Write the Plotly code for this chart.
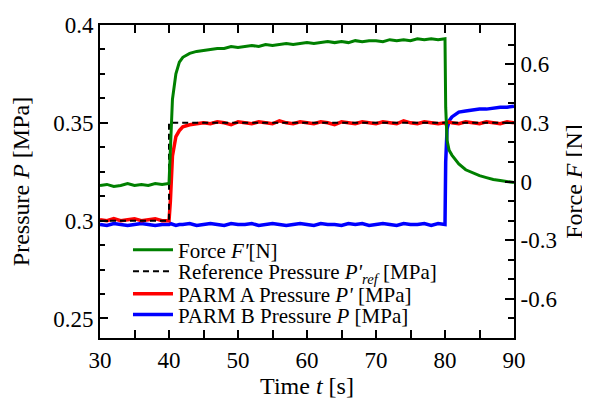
import plotly.graph_objects as go

# ---------------- data ----------------
time_s = [30, 31, 32, 33, 34, 35, 36, 37, 38, 39, 40,
          40.2, 40.5, 41, 41.5,
          42, 43, 44, 45, 46, 47, 48, 49, 50, 51, 52, 53, 54, 55, 56, 57, 58, 59, 60,
          61, 62, 63, 64, 65, 66, 67, 68, 69, 70, 71, 72, 73, 74, 75, 76, 77, 78, 79, 80,
          80.1, 80.3, 80.6,
          81, 82, 83, 84, 85, 86, 87, 88, 89, 90]

force_N = [-0.02, -0.015, -0.025, -0.02, -0.01, -0.02, -0.015, -0.02, -0.01, -0.015, -0.01,
           0.2, 0.42, 0.55, 0.61,
           0.635, 0.655, 0.665, 0.67, 0.675, 0.68, 0.68, 0.69, 0.685, 0.69, 0.695, 0.69, 0.7,
           0.695, 0.7, 0.705, 0.7, 0.705, 0.71, 0.705, 0.71, 0.715, 0.71, 0.715, 0.71, 0.72,
           0.715, 0.72, 0.72, 0.715, 0.725, 0.72, 0.725, 0.72, 0.73, 0.725, 0.73, 0.725, 0.73,
           0.38, 0.21, 0.16,
           0.135, 0.09, 0.06, 0.045, 0.03, 0.02, 0.01, 0.005, 0.0, -0.005]

parm_a_MPa = [0.3005, 0.3, 0.301, 0.3, 0.3005, 0.301, 0.3, 0.3005, 0.301, 0.3, 0.3,
              0.31, 0.333, 0.343, 0.346,
              0.348, 0.349, 0.3495, 0.35, 0.3495, 0.3505, 0.35, 0.349, 0.3505, 0.35, 0.3495,
              0.3505, 0.35, 0.3495, 0.351, 0.35, 0.3495, 0.3505, 0.35, 0.3495, 0.3505, 0.35,
              0.349, 0.3505, 0.35, 0.3495, 0.3505, 0.35, 0.3495, 0.3505, 0.35, 0.3495, 0.351,
              0.35, 0.3495, 0.3505, 0.35, 0.3495, 0.35,
              0.3495, 0.35, 0.3505,
              0.35, 0.3495, 0.3505, 0.35, 0.3495, 0.3505, 0.35, 0.3495, 0.3505, 0.35]

parm_b_MPa = [0.298, 0.2975, 0.2985, 0.298, 0.2975, 0.298, 0.2985, 0.298, 0.2975, 0.298, 0.298,
              0.2985, 0.298, 0.2975, 0.298,
              0.298, 0.2985, 0.2975, 0.298, 0.2985, 0.298, 0.2975, 0.2985, 0.298, 0.298,
              0.2985, 0.2975, 0.298, 0.2985, 0.298, 0.2975, 0.298, 0.2985, 0.298, 0.2975,
              0.2985, 0.298, 0.298, 0.2975, 0.2985, 0.298, 0.2985, 0.2975, 0.298, 0.2985,
              0.298, 0.2975, 0.2985, 0.298, 0.298, 0.2985, 0.2975, 0.2985, 0.298,
              0.33, 0.347, 0.351,
              0.353, 0.3555, 0.356, 0.3565, 0.357, 0.357, 0.3575, 0.358, 0.358, 0.3585]

ref_time_s = [30, 40, 90]
ref_MPa = [0.30, 0.35, 0.35]

left_tickvals = [0.25, 0.3, 0.35, 0.4]
left_ticktext = ["0.25", "0.3", "0.35", "0.4"]
right_tickvals = [-0.6, -0.3, 0, 0.3, 0.6]
right_ticktext = ["-0.6", "-0.3", "0", "0.3", "0.6"]

# ---------------- figure ----------------
FONT = "Liberation Serif, Times New Roman, serif"

fig = go.Figure()

fig.add_trace(go.Scatter(
    x=time_s, y=parm_b_MPa, mode="lines", name="PARM B Pressure <i>P</i> [MPa]",
    line=dict(color="#0000ff", width=3.5), legend="legend4"))
fig.add_trace(go.Scatter(
    x=time_s, y=parm_a_MPa, mode="lines", name="PARM A Pressure <i>P'</i> [MPa]",
    line=dict(color="#ff0000", width=3.5), legend="legend3"))
fig.add_trace(go.Scatter(
    x=time_s, y=force_N, mode="lines", name="Force <i>F'</i>[N]", yaxis="y2",
    line=dict(color="#008000", width=3), legend="legend"))
fig.add_trace(go.Scatter(
    x=ref_time_s, y=ref_MPa, mode="lines", line_shape="hv",
    name="Reference Pressure <i>P'</i><sub><i>ref</i></sub> [MPa]",
    line=dict(color="#000000", width=2, dash="6px,4px"), legend="legend2"))

axis_common = dict(
    showline=True, linecolor="black", linewidth=2,
    ticks="inside", tickcolor="black", tickwidth=2,
    showgrid=False, zeroline=False,
    tickfont=dict(family=FONT, size=23, color="black"),
)


def leg(y):
    return dict(
        x=0.0676, y=y, xanchor="left", yanchor="middle",
        bgcolor="rgba(0,0,0,0)", borderwidth=0,
        font=dict(family=FONT, size=21, color="black"),
        itemwidth=40,
    )


fig.update_layout(
    width=582, height=395,
    margin=dict(l=92, r=76, t=17, b=65, autoexpand=False),
    paper_bgcolor="white", plot_bgcolor="white",
    font=dict(family=FONT, size=20, color="black"),
    showlegend=True,
    legend=leg(0.281),
    legend2=leg(0.2125),
    legend3=leg(0.1405),
    legend4=leg(0.0737),
    xaxis=dict(
        **axis_common,
        range=[30, 90], tick0=30, dtick=10, ticklen=8, mirror="allticks",
        minor=dict(dtick=5, ticklen=5, ticks="inside", tickcolor="black", tickwidth=2),
        title=dict(text="Time <i>t</i> [s]", font=dict(family=FONT, size=24), standoff=5),
    ),
    yaxis=dict(
        **axis_common,
        range=[0.24, 0.4], tickmode="array", tickvals=left_tickvals, ticktext=left_ticktext,
        ticklen=8,
        minor=dict(tickmode="linear", tick0=0.25, dtick=0.0125, ticklen=5, ticks="inside",
                   tickcolor="black", tickwidth=2),
        title=dict(text="Pressure <i>P</i> [MPa]", font=dict(family=FONT, size=24), standoff=27),
    ),
    yaxis2=dict(
        **axis_common,
        overlaying="y", side="right", anchor="x",
        range=[-0.8, 0.8], tickmode="array", tickvals=right_tickvals, ticktext=right_ticktext,
        ticklen=9,
        minor=dict(tickmode="linear", tick0=0, dtick=0.1, ticklen=6, ticks="inside",
                   tickcolor="black", tickwidth=2),
        title=dict(text="Force <i>F</i> [N]", font=dict(family=FONT, size=24), standoff=9),
    ),
)

fig.write_html("out.html")
